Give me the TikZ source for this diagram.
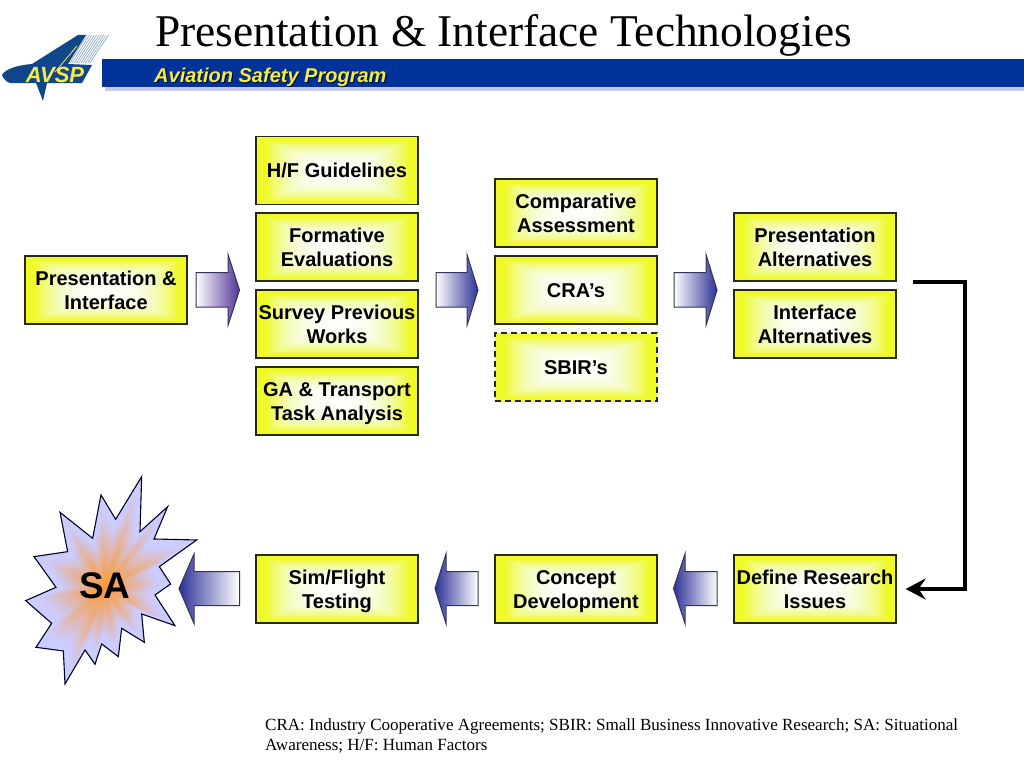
\documentclass[tikz,border=0pt]{standalone}
\usepackage{fontspec}
\setmainfont{Liberation Sans}
\newfontfamily\serifface{Liberation Serif}
\usetikzlibrary{arrows.meta,calc}
\pgfdeclarefunctionalshading{boxglow}{\pgfpointorigin}{\pgfpoint{100bp}{100bp}}{}{
  50 sub abs exch 50 sub abs 2 copy lt {exch} if pop 25 div
  1.12 mul dup 1 gt {pop 1} if
  dup -0.06 mul 1 add exch
  dup -0.02 mul 1 add exch
  dup dup mul mul -0.82 mul 0.97 add
}
\definecolor{bandblue}{RGB}{0,51,153}
\definecolor{bandshadow}{RGB}{200,200,235}
\definecolor{bandtext}{RGB}{245,235,70}
\definecolor{boxedge}{RGB}{40,40,20}
\definecolor{starlav}{RGB}{204,204,255}
\definecolor{starorange}{RGB}{255,153,51}
\definecolor{arrowedge}{RGB}{50,50,90}
\definecolor{purplehead}{RGB}{85,51,153}
\definecolor{navyhead}{RGB}{45,50,150}
\definecolor{logoblue}{RGB}{15,70,140}
\tikzset{
  x=1pt,y=-1pt,
  flowbox/.style={draw=boxedge,line width=1.3pt,shading=boxglow,minimum width=162pt,minimum height=68pt,
    inner sep=0pt,align=center,font=\fontsize{20}{24}\selectfont\bfseries,text=black},
  oneline/.style={flowbox,text height=14.5pt,text depth=0pt},
  twoline/.style={flowbox,text height=39.5pt,text depth=0pt},
  lowline/.style={flowbox,text height=38.5pt,text depth=0pt},
  optbox/.style={oneline,dashed,dash pattern=on 6pt off 4pt},
  blockarrow/.style={draw=arrowedge,line width=1pt},
  returnline/.style={line width=4pt,draw=black,-{Stealth[length=20pt,width=21pt,inset=7pt]}},
}
\newcommand{\rightblock}[5]{% name, left, base, tip, colour
  \path[blockarrow,left color=white,right color=#5] (#2,272.5) -- (#3,272.5) -- (#3,254.5) -- (#4,290) -- (#3,325.5) -- (#3,307) -- (#2,307) -- cycle;
  \coordinate (#1) at (#4,290);
}
\newcommand{\leftblock}[4]{% name, tip, base, right
  \path[blockarrow,left color=navyhead,right color=white] (#4,571.5) -- (#3,571.5) -- (#3,554) -- (#2,588.5) -- (#3,623.5) -- (#3,605.5) -- (#4,605.5) -- cycle;
  \coordinate (#1) at (#2,588.5);
}
\newcommand{\starshape}{(110,-335) -- (105,-170) -- (188,-245) -- (147,-148) -- (275,-145) -- (163,-65) -- (197,-13) -- (150,20) -- (210,112) -- (110,77) -- (118,162) -- (50,120) -- (40,205) -- (-10,167) -- (-30,228) -- (-60,185) -- (-120,287) -- (-125,188) -- (-207,177) -- (-160,105) -- (-238,37) -- (-147,-3) -- (-213,-95) -- (-112,-110) -- (-135,-228) -- (-37,-150) -- (-12,-280) -- (32,-207) -- cycle}
\begin{document}
\begin{tikzpicture}
\useasboundingbox (0,0) rectangle (1024,768);
% title
\node[anchor=base west,inner sep=0pt,font=\serifface\fontsize{45.4}{48}\selectfont] (title) at (155,46.5) {Presentation \& Interface Technologies};
% band
\fill[bandshadow] (105,63) rectangle (1024,91);
\fill[bandblue] (102,59) rectangle (1024,87);
\node[anchor=base west,inner sep=0pt,font=\fontsize{20}{24}\selectfont\bfseries\itshape,text=black!70!bandblue] (bandtextshadow) at (155.2,83.7) {Aviation Safety Program};
\node[anchor=base west,inner sep=0pt,font=\fontsize{20}{24}\selectfont\bfseries\itshape,text=bandtext] (bandlabel) at (154,82.5) {Aviation Safety Program};
% logo
\begin{scope}
  \foreach \i in {0,...,9}{
    \draw[logoblue!50!white,line width=.6pt] ({87+\i*2.4},35) -- ({70+\i*2.2},63);
  }
  \fill[logoblue] (2,75) .. controls (6,68) and (20,65) .. (32,64) -- (78,35) -- (86,35) -- (68,64) -- (92,65) -- (82,83) -- (47,83) -- (43,101) -- (36,83) -- (10,83) .. controls (6,82) and (3,78) .. (2,75) -- cycle;
  \draw[bandtext,line width=.8pt] (77,46) -- (55,72);
  \node[inner sep=0pt,font=\fontsize{22}{24}\selectfont\bfseries\itshape,text=bandtext] (logotext) at (55,75) {AVSP};
\end{scope}
% boxes
\node[twoline] (pres) at (106,290) {Presentation \&\\Interface};
\node[oneline] (hf) at (337,170.5) {H/F Guidelines};
\node[twoline] (form) at (337,247) {Formative\\Evaluations};
\node[twoline] (surv) at (337,324) {Survey Previous\\Works};
\node[twoline] (ga) at (337,401) {GA \& Transport\\Task Analysis};
\node[twoline] (comp) at (576,213) {Comparative\\Assessment};
\node[oneline] (cra) at (576,290) {CRA’s};
\node[optbox] (sbir) at (576,367) {SBIR’s};
\node[twoline] (palt) at (815,247) {Presentation\\Alternatives};
\node[twoline] (ialt) at (815,324) {Interface\\Alternatives};
\node[lowline] (sim) at (337,589) {Sim/Flight\\Testing};
\node[lowline] (conc) at (576,589) {Concept\\Development};
\node[lowline] (defn) at (815,589) {Define Research\\Issues};
% block arrows
\rightblock{ra}{196}{228}{239.5}{purplehead}
\rightblock{rb}{436}{467}{478}{navyhead}
\rightblock{rc}{674}{706}{717}{navyhead}
\leftblock{la}{179}{194}{239.5}
\leftblock{lb}{435}{446}{478}
\leftblock{lc}{673.5}{685}{717}
% star
\begin{scope}[shift={(105,588.3)},x=0.3333pt,y=-0.3333pt]
  \fill[starlav] \starshape;
  \foreach \t in {40,...,1}{
    \pgfmathsetmacro{\sc}{\t/40}
    \pgfmathsetmacro{\mx}{max(0,100-\t*2.9)}
    \fill[starorange!\mx!starlav,scale=\sc] \starshape;
  }
  \draw[draw=black!85!blue,line width=1.1pt,line join=miter,miter limit=10] \starshape;
\end{scope}
\node[inner sep=0pt,font=\fontsize{37}{40}\selectfont\bfseries] (sa) at (105,586) {SA};
% return connector
\coordinate (retstart) at (913,281.5);
\coordinate (retcorner) at (964.5,281.5);
\draw[returnline,shorten >=9pt] (retstart) -- (retcorner) |- (defn.east);
% footnote
\node[anchor=base west,inner sep=0pt,font=\serifface\fontsize{17.04}{20}\selectfont] (noteone) at (265,730) {CRA: Industry Cooperative Agreements; SBIR: Small Business Innovative Research; SA: Situational};
\node[anchor=base west,inner sep=0pt,font=\serifface\fontsize{17.04}{20}\selectfont] (notetwo) at (265,750) {Awareness; H/F: Human Factors};
\end{tikzpicture}
\end{document}
